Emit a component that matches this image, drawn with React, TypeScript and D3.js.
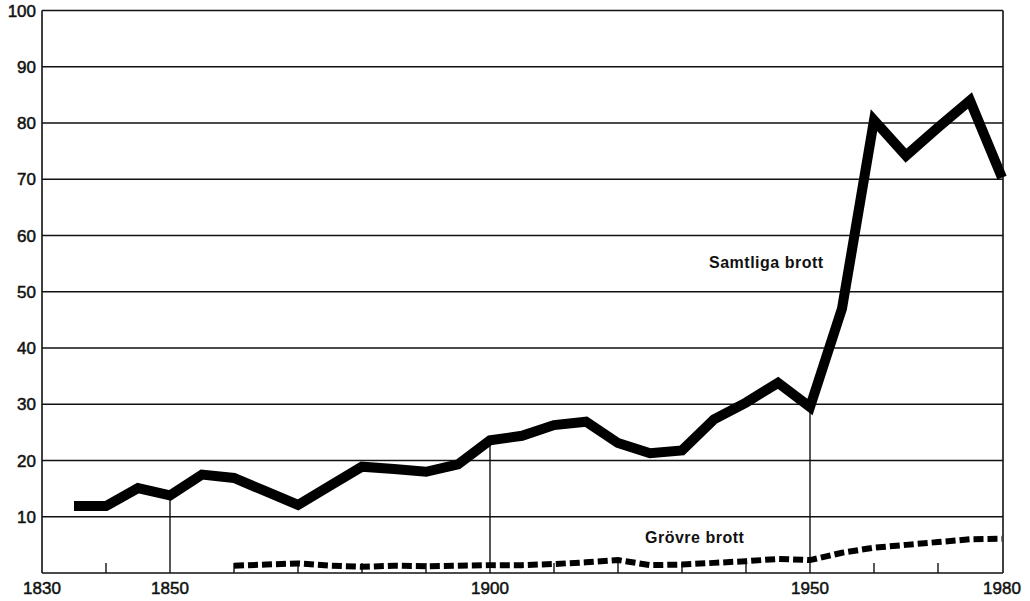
import React from "react";
import * as d3 from "d3";

// Samtliga brott (all crimes), every 5 years 1835-1980
const totalYears = [
  1835, 1840, 1845, 1850, 1855, 1860, 1865, 1870, 1875, 1880, 1885, 1890, 1895, 1900, 1905,
  1910, 1915, 1920, 1925, 1930, 1935, 1940, 1945, 1950, 1955, 1960, 1965, 1970, 1975, 1980,
];
const totalValues = [
  11.9, 11.9, 15.1, 13.8, 17.5, 16.9, 14.5, 12.1, 15.5, 18.9, 18.5, 18.0, 19.3, 23.6, 24.4,
  26.3, 26.9, 23.1, 21.3, 21.8, 27.3, 30.3, 33.8, 29.5, 47.0, 80.5, 74.2, 79.2, 84.0, 70.3,
];

// Grövre brott (serious crimes), every 5 years 1860-1980
const seriousYears = [
  1860, 1865, 1870, 1875, 1880, 1885, 1890, 1895, 1900, 1905, 1910, 1915, 1920,
  1925, 1930, 1935, 1940, 1945, 1950, 1955, 1960, 1965, 1970, 1975, 1980,
];
const seriousValues = [
  1.3, 1.5, 1.7, 1.3, 1.1, 1.3, 1.2, 1.3, 1.4, 1.4, 1.6, 1.9, 2.3,
  1.4, 1.5, 1.8, 2.1, 2.5, 2.3, 3.6, 4.5, 5.0, 5.5, 6.0, 6.1,
];

const yTicks = [10, 20, 30, 40, 50, 60, 70, 80, 90, 100];
const yLabels = ["10", "20", "30", "40", "50", "60", "70", "80", "90", "100"];
const xLabelYears = [1830, 1850, 1900, 1950, 1980];
const minorTickYears = [1840, 1860, 1870, 1880, 1890, 1910, 1920, 1930, 1940, 1960, 1970];
const dropYears = [1850, 1900, 1950];

const totalLabel = "Samtliga brott";
const seriousLabel = "Grövre brott";

export default function App() {
  const width = 1030;
  const height = 601;
  const margin = { top: 10.5, right: 27, bottom: 28, left: 42 };

  const x = d3
    .scaleLinear()
    .domain([1830, 1980])
    .range([margin.left, width - margin.right - 1]);
  const y = d3
    .scaleLinear()
    .domain([0, 100])
    .range([height - margin.bottom, margin.top]);

  const line = d3
    .line<[number, number]>()
    .x((d) => x(d[0]))
    .y((d) => y(d[1]));

  const totalData: [number, number][] = totalYears.map((yr, i) => [yr, totalValues[i]]);
  const seriousData: [number, number][] = seriousYears.map((yr, i) => [yr, seriousValues[i]]);

  const font = "'Liberation Sans', Arial, Helvetica, sans-serif";
  const x0 = x(1830);
  const x1 = width - margin.right;
  const yBase = y(0);

  return (
    <svg
      width={width}
      height={height}
      style={{ position: "absolute", left: 0, top: 0, background: "#fff" }}
    >
      {/* horizontal grid */}
      {yTicks.map((t) => (
        <line key={t} x1={x0} x2={x1} y1={y(t)} y2={y(t)} stroke="#111" strokeWidth={1.4} />
      ))}
      {/* frame */}
      <line x1={x0} x2={x0} y1={y(100)} y2={yBase} stroke="#111" strokeWidth={1.6} />
      <line x1={x1} x2={x1} y1={y(100)} y2={yBase} stroke="#111" strokeWidth={1.6} />
      <line x1={x0} x2={x1} y1={yBase} y2={yBase} stroke="#111" strokeWidth={1.6} />

      {/* minor ticks */}
      {minorTickYears.map((yr) => (
        <line key={yr} x1={x(yr)} x2={x(yr)} y1={yBase} y2={yBase - 10} stroke="#111" strokeWidth={1.4} />
      ))}
      {/* drop lines to the total series */}
      {dropYears.map((yr) => (
        <line
          key={yr}
          x1={x(yr)}
          x2={x(yr)}
          y1={yBase}
          y2={y(totalValues[totalYears.indexOf(yr)])}
          stroke="#111"
          strokeWidth={1.4}
        />
      ))}

      {/* series */}
      <path
        d={line(totalData) || ""}
        fill="none"
        stroke="#000"
        strokeWidth={10}
        strokeLinejoin="miter"
        strokeMiterlimit={3}
      />
      <path
        d={line(seriousData) || ""}
        fill="none"
        stroke="#000"
        strokeWidth={6}
        strokeDasharray="10,4"
      />

      {/* y labels */}
      {yTicks.map((t, i) => (
        <text
          key={t}
          x={36}
          y={y(t) + 6}
          textAnchor="end"
          fontFamily={font}
          fontSize={17}
          fill="#111"
          stroke="#111"
          strokeWidth={0.5}
        >
          {yLabels[i]}
        </text>
      ))}
      {/* x labels */}
      {xLabelYears.map((yr) => (
        <text
          key={yr}
          x={x(yr)}
          y={594}
          textAnchor="middle"
          fontFamily={font}
          fontSize={17}
          fill="#111"
          stroke="#111"
          strokeWidth={0.5}
        >
          {yr}
        </text>
      ))}

      {/* series labels */}
      <text
        x={709}
        y={268}
        fontFamily={font}
        fontSize={16}
        fontWeight="bold"
        letterSpacing={0.5}
        fill="#111"
      >
        {totalLabel}
      </text>
      <text
        x={645}
        y={543}
        fontFamily={font}
        fontSize={16}
        fontWeight="bold"
        letterSpacing={0.5}
        fill="#111"
      >
        {seriousLabel}
      </text>
    </svg>
  );
}
